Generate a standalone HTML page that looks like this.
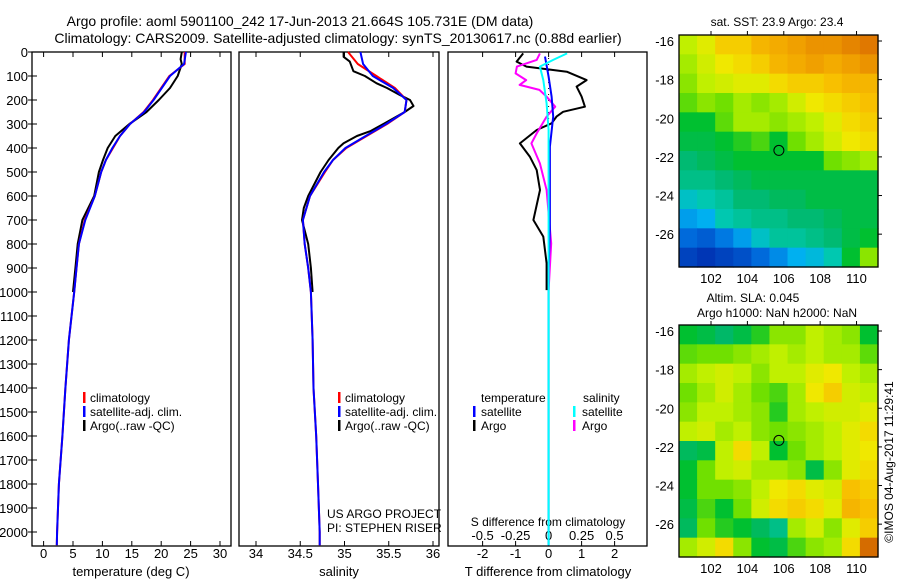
<!DOCTYPE html>
<html><head><meta charset="utf-8"><style>
html,body{margin:0;padding:0;background:#fff;}
svg{display:block;font-family:"Liberation Sans",sans-serif;}
</style></head><body>
<svg id="fig" width="900" height="580" viewBox="0 0 900 580" xmlns="http://www.w3.org/2000/svg">
<text x="300" y="26" font-size="14" text-anchor="middle">Argo profile: aoml 5901100_242 17-Jun-2013 21.664S 105.731E (DM data)</text>
<text x="338" y="43" font-size="14" text-anchor="middle">Climatology: CARS2009. Satellite-adjusted climatology: synTS_20130617.nc (0.88d earlier)</text>
<g id="g1"></g>
<g id="g2"></g>
<g id="g3"></g>
<g id="m1"></g>
<g id="m2"></g>
<text x="777" y="26" font-size="12" text-anchor="middle">sat. SST: 23.9 Argo: 23.4</text>
<text x="753" y="302" font-size="12" text-anchor="middle">Altim. SLA: 0.045</text>
<text x="777" y="317" font-size="12" text-anchor="middle">Argo h1000: NaN h2000: NaN</text>
<text x="0" y="0" font-size="12" text-anchor="middle" transform="translate(893,462) rotate(-90)">©IMOS 04-Aug-2017 11:29:41</text>
</svg>
<script>
// ---- profile data ----
const climDepth=[0,50,100,150,200,250,300,350,400,450,500,600,700,800,900,1000,1200,1400,1600,1800,2000,2055];
const climTemp=[24.0,24.0,21.4,20.0,18.6,17.0,14.7,13.0,11.8,10.6,9.8,8.7,7.0,6.0,5.6,5.2,4.3,3.7,3.2,2.6,2.3,2.25];
const satTemp=[24.2,23.9,21.5,20.1,18.7,17.1,14.7,13.0,11.7,10.6,9.8,8.7,7.1,6.0,5.6,5.2,4.3,3.7,3.2,2.6,2.3,2.25];
const argoDepth=[0,30,50,100,150,200,250,300,350,400,450,500,600,650,700,800,900,1000];
const argoTemp=[23.5,23.3,23.5,22.8,21.5,19.6,17.5,14.6,12.2,10.9,10.1,9.4,8.6,7.6,6.6,5.8,5.4,5.0];
const climSal=[35.04,35.15,35.36,35.57,35.7,35.68,35.48,35.25,35.02,34.87,34.78,34.61,34.53,34.55,34.59,34.62,34.64,34.65,34.68,34.7,34.72,34.72];
const satSal=[35.18,35.21,35.32,35.55,35.7,35.68,35.47,35.24,35.01,34.87,34.77,34.61,34.53,34.55,34.59,34.62,34.64,34.65,34.68,34.7,34.72,34.72];
const argoSalDepth=[0,20,40,80,100,130,150,180,200,225,250,300,330,350,380,400,450,500,600,650,700,800,900,1000];
const argoSal=[34.99,34.99,35.06,35.1,35.23,35.36,35.48,35.63,35.74,35.78,35.68,35.44,35.29,35.14,34.99,34.93,34.82,34.73,34.59,34.54,34.52,34.59,34.62,34.64];
const tdArgoDepth=[6,40,61,82,117,144,186,228,249,269,297,325,381,436,492,575,700,769,880,992];
const tdArgo=[-0.77,-0.97,-0.67,0.55,1.15,0.85,1.0,1.1,0.44,0.24,0.09,-0.36,-0.87,-0.57,-0.36,-0.26,-0.46,-0.16,-0.06,-0.06];
const sdArgoDepth=[6,33,61,89,117,137,158,186,228,269,339,381,464,575,797,992];
const sdArgo=[-0.066,-0.09,-0.24,-0.25,-0.17,-0.22,-0.07,-0.015,0.05,-0.015,-0.09,-0.13,-0.066,-0.015,0.02,0];
const tdSatDepth=[19,103,186,269,394,741,900,2055];
const tdSat=[-0.11,0,0.09,0.14,0.04,0.04,0,0];
const sdSatDepth=[6,33,61,117,214,325,2055];
const sdSat=[0.14,0.035,-0.066,-0.04,-0.015,0,0];
const depthTicks=[0,100,200,300,400,500,600,700,800,900,1000,1100,1200,1300,1400,1500,1600,1700,1800,1900,2000];
const tempTicks=[0,5,10,15,20,25,30];
const salTicks=[34,34.5,35,35.5,36];
const tdTicks=[-2,-1,0,1,2];
const sdTicks=[-0.5,-0.25,0,0.25,0.5];
// ---- map data (0..1 colour index, rows north->south, cols west->east) ----
const sstGrid=[
[.62,.66,.72,.72,.76,.78,.8,.82,.82,.84,.86],
[.6,.64,.68,.7,.72,.76,.78,.8,.78,.8,.82],
[.58,.62,.64,.66,.66,.7,.72,.72,.74,.76,.76],
[.55,.58,.56,.6,.58,.6,.64,.68,.7,.72,.74],
[.5,.5,.55,.6,.6,.58,.6,.62,.66,.7,.72],
[.48,.48,.5,.52,.54,.5,.56,.6,.64,.68,.7],
[.44,.46,.48,.5,.5,.5,.5,.5,.56,.58,.6],
[.42,.42,.44,.46,.48,.48,.48,.48,.48,.48,.48],
[.36,.38,.4,.44,.44,.46,.46,.48,.48,.48,.48],
[.3,.32,.38,.4,.42,.42,.44,.44,.46,.48,.48],
[.24,.22,.26,.3,.36,.4,.4,.42,.44,.48,.5],
[.18,.16,.18,.2,.24,.28,.32,.34,.38,.5,.58]];
const slaGrid=[
[.5,.48,.45,.48,.52,.58,.58,.62,.6,.58,.5],
[.55,.56,.56,.58,.6,.62,.6,.62,.6,.6,.55],
[.6,.62,.64,.62,.58,.62,.62,.66,.68,.62,.6],
[.56,.6,.64,.6,.56,.54,.6,.68,.72,.64,.62],
[.58,.62,.62,.6,.58,.52,.6,.62,.64,.64,.66],
[.62,.64,.6,.62,.58,.56,.58,.6,.62,.66,.7],
[.46,.48,.62,.7,.62,.5,.56,.6,.62,.66,.68],
[.5,.56,.62,.64,.6,.6,.58,.48,.58,.66,.7],
[.5,.56,.56,.58,.62,.68,.7,.66,.64,.74,.72],
[.48,.54,.5,.56,.64,.7,.72,.7,.66,.76,.74],
[.46,.56,.52,.5,.46,.42,.6,.64,.58,.66,.72],
[.6,.64,.7,.58,.5,.48,.54,.58,.6,.7,.88]];
const lonTicks=[102,104,106,108,110];
const latTicks=[-16,-18,-20,-22,-24,-26];
const floatLon=105.731, floatLat=-21.664;

const NS='http://www.w3.org/2000/svg';
function mk(parent,tag,attrs,txt){const e=document.createElementNS(NS,tag);for(const k in attrs)e.setAttribute(k,attrs[k]);if(txt!==undefined)e.textContent=txt;parent.appendChild(e);return e;}
const Y0=52,Y1=546;
const yD=d=>52+d*0.24;
function panel(g,x0,x1){
  const r=mk(g,'rect',{x:x0,y:Y0,width:x1-x0,height:Y1-Y0,fill:'none',stroke:'#000','stroke-width':1.3});
  
  
}
function line(g,xs,ds,xf,color,w,name){
  const pts=xs.map((v,i)=>xf(v).toFixed(1)+','+yD(ds[i]).toFixed(1)).join(' ');
  const p=mk(g,'polyline',{points:pts,fill:'none',stroke:color,'stroke-width':w,'stroke-linejoin':'round'});
  
  
}
function txt(g,x,y,s,anchor,size,name){
  const t=mk(g,'text',{x:x,y:y,'font-size':size||12,'text-anchor':anchor||'start'},s);
  
  
  return t;
}
function legBar(g,x,y,color,name){
  const b=mk(g,'rect',{x:x,y:y-10,width:2.5,height:11,fill:color});
  
  
}
// Panel 1
const g1=document.getElementById('g1');
const xT=t=>43.6+t*5.88;
panel(g1,32,231);
depthTicks.forEach(d=>{
  txt(g1,28,yD(d)+5,String(d),'end',13,'depth-tick-label');
  const t=mk(g1,'line',{x1:28,x2:37,y1:yD(d),y2:yD(d),stroke:'#000'});
  
  
});
tempTicks.forEach(v=>{
  txt(g1,xT(v),558,String(v),'middle',13,'temperature-tick-label');
  const t=mk(g1,'line',{x1:xT(v),x2:xT(v),y1:Y1,y2:Y1-5,stroke:'#000'});
  
  
  const t2=mk(g1,'line',{x1:xT(v),x2:xT(v),y1:Y0,y2:Y0+5,stroke:'#000'});
  
  
});
txt(g1,131,576,'temperature (deg C)','middle',13,'x-axis-title-temperature');
line(g1,argoTemp,argoDepth,xT,'#000',2,'argo-temperature-line');
line(g1,climTemp,climDepth,xT,'#f00',2,'climatology-temperature-line');
line(g1,satTemp,climDepth,xT,'#00f',2,'satellite-temperature-line');
legBar(g1,83,402,'#f00','legend-climatology-swatch');txt(g1,90,402,'climatology','start',12,'legend-climatology');
legBar(g1,83,416,'#00f','legend-satellite-swatch');txt(g1,90,416,'satellite-adj. clim.','start',12,'legend-satellite');
legBar(g1,83,430,'#000','legend-argo-swatch');txt(g1,90,430,'Argo(..raw -QC)','start',12,'legend-argo');
// Panel 2
const g2=document.getElementById('g2');
const xS=s=>256+(s-34)*88.5;
panel(g2,239,439);
salTicks.forEach(v=>{
  txt(g2,xS(v),558,String(v),'middle',13,'salinity-tick-label');
  const t=mk(g2,'line',{x1:xS(v),x2:xS(v),y1:Y1,y2:Y1-5,stroke:'#000'});
  
  
  const t2=mk(g2,'line',{x1:xS(v),x2:xS(v),y1:Y0,y2:Y0+5,stroke:'#000'});
  
  
});
txt(g2,339,576,'salinity','middle',13,'x-axis-title-salinity');
line(g2,argoSal,argoSalDepth,xS,'#000',2,'argo-salinity-line');
line(g2,climSal,climDepth,xS,'#f00',2,'climatology-salinity-line');
line(g2,satSal,climDepth,xS,'#00f',2,'satellite-salinity-line');
legBar(g2,338,402,'#f00','legend-climatology-swatch');txt(g2,345,402,'climatology','start',12,'legend-climatology');
legBar(g2,338,416,'#00f','legend-satellite-swatch');txt(g2,345,416,'satellite-adj. clim.','start',12,'legend-satellite');
legBar(g2,338,430,'#000','legend-argo-swatch');txt(g2,345,430,'Argo(..raw -QC)','start',12,'legend-argo');
txt(g2,327,518,'US ARGO PROJECT','start',12,'project-label');
txt(g2,327,532,'PI: STEPHEN RISER','start',12,'pi-label');
// Panel 3
const g3=document.getElementById('g3');
const xTd=v=>548.6+v*33, xSd=v=>548.6+v*132;
panel(g3,448,647);
tdTicks.forEach(v=>{
  txt(g3,xTd(v),558,String(v),'middle',13,'tdiff-tick-label');
  const t=mk(g3,'line',{x1:xTd(v),x2:xTd(v),y1:Y1,y2:Y1-5,stroke:'#000'});
  
  
  const t2=mk(g3,'line',{x1:xTd(v),x2:xTd(v),y1:Y0,y2:Y0+5,stroke:'#000'});
  
  
});
sdTicks.forEach(v=>{txt(g3,xSd(v),540,String(v),'middle',13,'sdiff-tick-label');});
txt(g3,548,526,'S difference from climatology','middle',12,'sdiff-axis-title');
txt(g3,548,576,'T difference from climatology','middle',13,'x-axis-title-tdiff');
const zl=mk(g3,'line',{x1:xTd(0),x2:xTd(0),y1:Y0,y2:Y1,stroke:'#000','stroke-dasharray':'1,5'});


line(g3,tdArgo,tdArgoDepth,xTd,'#000',2,'argo-tdiff-line');
line(g3,sdArgo,sdArgoDepth,xSd,'#f0f',2,'argo-sdiff-line');
line(g3,tdSat,tdSatDepth,xTd,'#00f',2,'satellite-tdiff-line');
line(g3,sdSat,sdSatDepth,xSd,'#0ff',2,'satellite-sdiff-line');
txt(g3,481,402,'temperature','start',12,'legend-temperature-header');
txt(g3,583,402,'salinity','start',12,'legend-salinity-header');
legBar(g3,473,416,'#00f','legend-t-satellite-swatch');txt(g3,481,416,'satellite','start',12,'legend-t-satellite');
legBar(g3,473,430,'#000','legend-t-argo-swatch');txt(g3,481,430,'Argo','start',12,'legend-t-argo');
legBar(g3,573,416,'#0ff','legend-s-satellite-swatch');txt(g3,582,416,'satellite','start',12,'legend-s-satellite');
legBar(g3,573,430,'#f0f','legend-s-argo-swatch');txt(g3,582,430,'Argo','start',12,'legend-s-argo');
// Maps
const stops=[[0,[0,16,140]],[.15,[0,48,176]],[.25,[0,112,224]],[.32,[0,176,240]],[.38,[0,200,176]],[.45,[0,184,104]],[.5,[0,192,48]],[.56,[112,224,0]],[.62,[192,240,0]],[.68,[240,232,0]],[.74,[248,192,0]],[.8,[240,160,0]],[.86,[224,120,0]],[.95,[176,64,0]],[1,[140,30,0]]];
function cmap(v){for(let i=1;i<stops.length;i++){if(v<=stops[i][0]){const a=stops[i-1],b=stops[i],f=(v-a[0])/(b[0]-a[0]);const c=a[1].map((x,k)=>Math.round(x+(b[1][k]-x)*f));return 'rgb('+c.join(',')+')';}}return 'rgb(140,30,0)';}
function drawMap(g,grid,top,name){
  const L=679,R=878,T=top,B=top+232;
  const lonMin=100.24,lonMax=111.18,latMax=-15.69,latMin=-27.7;
  const xL=lon=>L+(lon-lonMin)/(lonMax-lonMin)*(R-L);
  const yL=lat=>T+(latMax-lat)/(latMax-latMin)*(B-T);
  const nr=grid.length,nc=grid[0].length;
  const cw=(R-L)/nc,ch=(B-T)/nr;
  grid.forEach((row,i)=>row.forEach((v,j)=>{
    const c=mk(g,'rect',{x:(L+j*cw).toFixed(2),y:(T+i*ch).toFixed(2),width:(cw+0.6).toFixed(2),height:(ch+0.6).toFixed(2),fill:cmap(v)});
    
    
  }));
  const f=mk(g,'rect',{x:L,y:T,width:R-L,height:B-T,fill:'none',stroke:'#000','stroke-width':1.3});
  
  
  lonTicks.forEach(v=>{
    txt(g,xL(v),B+16,String(v),'middle',13,'longitude-tick-label');
    const t=mk(g,'line',{x1:xL(v),x2:xL(v),y1:T-4,y2:T,stroke:'#000'});
    
    
  });
  latTicks.forEach(v=>{
    txt(g,674,yL(v)+5,String(v),'end',13,'latitude-tick-label');
    const t=mk(g,'line',{x1:R,x2:R+4,y1:yL(v),y2:yL(v),stroke:'#000'});
    
    
  });
  const c=mk(g,'circle',{cx:xL(floatLon),cy:yL(floatLat),r:5,fill:'none',stroke:'#000','stroke-width':1});
  
  
}
drawMap(document.getElementById('m1'),sstGrid,35,'sst-map');
drawMap(document.getElementById('m2'),slaGrid,325,'sla-map');
</script>
</body></html>
